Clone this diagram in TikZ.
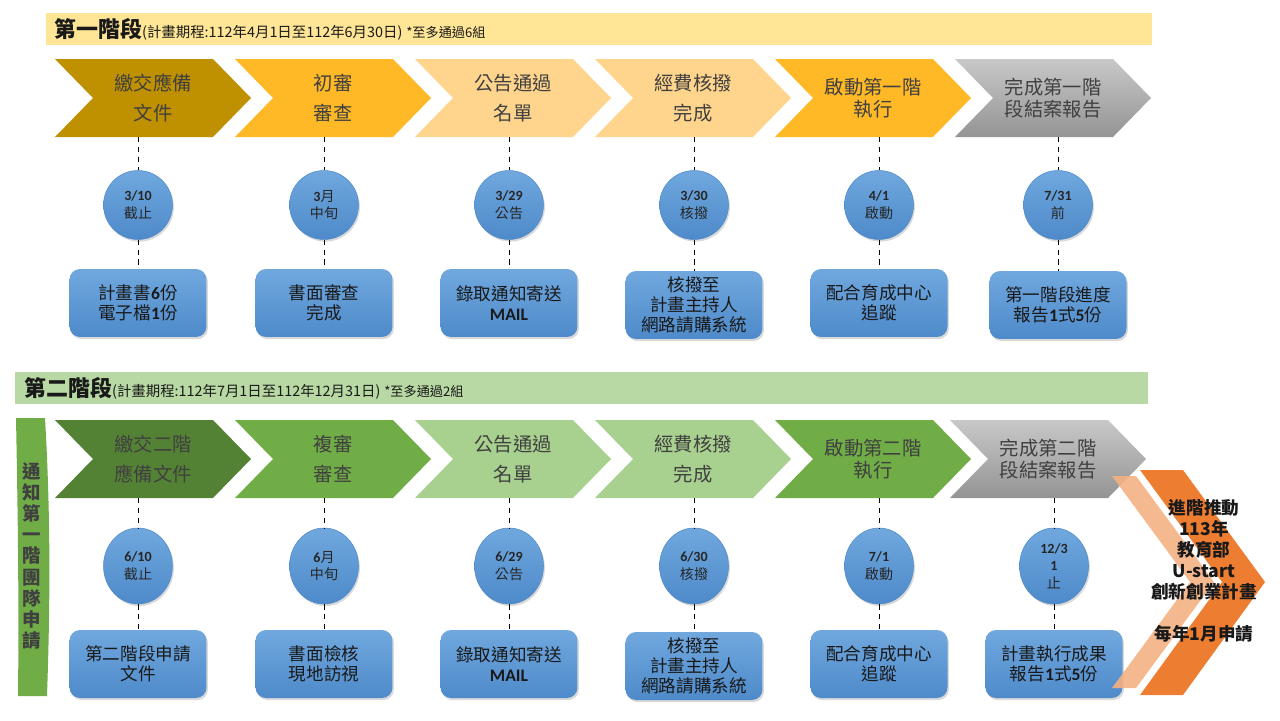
\documentclass[tikz,border=0pt]{standalone}
\usepackage{fontspec}
\setmainfont{Noto Sans CJK TC}
\newfontfamily\numfont{Carlito}
\usetikzlibrary{shapes.geometric}
\usetikzlibrary{shadows}

\definecolor{hdryellow}{RGB}{255,229,150}
\definecolor{hdrgreen}{RGB}{184,217,163}
\definecolor{goldd}{RGB}{191,144,0}
\definecolor{amber}{RGB}{255,185,38}
\definecolor{amberl}{RGB}{255,212,140}
\definecolor{greend}{RGB}{84,130,53}
\definecolor{greenm}{RGB}{112,173,71}
\definecolor{greenl}{RGB}{168,208,142}
\definecolor{grayl}{RGB}{200,200,200}
\definecolor{grayd}{RGB}{148,148,148}
\definecolor{bluel}{RGB}{112,168,222}
\definecolor{blued}{RGB}{78,138,202}
\definecolor{txtgray}{RGB}{64,64,64}
\definecolor{orangem}{RGB}{237,125,49}
\definecolor{peach}{RGB}{244,177,131}

\newcommand{\bnum}[1]{{\numfont\bfseries #1}}

\tikzset{
  hdrtext/.style={anchor=west, inner sep=0pt, text=black!90},
  steptext/.style={text=txtgray, align=center, inner sep=0pt, font=\fontsize{11}{17}\selectfont},
  steptight/.style={steptext, font=\fontsize{11}{12.5}\selectfont},
  datecirc/.style={circle, minimum size=1.38cm, inner sep=0pt, top color=bluel, bottom color=blued,
    draw=blued, line width=0.3pt, drop shadow={shadow xshift=0.8pt, shadow yshift=-1.2pt, opacity=0.3},
    align=center, font=\fontsize{8}{10}\selectfont, text=black!85},
  dateoval/.style={datecirc, ellipse, minimum width=1.38cm, minimum height=1.52cm},
  taskbox/.style={rectangle, rounded corners=6pt, minimum width=2.74cm, minimum height=1.36cm, inner sep=2pt,
    top color=bluel, bottom color=blued, drop shadow={shadow xshift=0.8pt, shadow yshift=-1.2pt, opacity=0.3},
    align=center, font=\fontsize{10}{11.5}\selectfont, text=black!90},
  link/.style={dash pattern=on 3pt off 2.6pt, line width=0.5pt},
  bartext/.style={align=center, inner sep=0pt, font=\fontsize{10.5}{12}\selectfont\bfseries, text=black!75},
  advtext/.style={align=center, inner sep=0pt, font=\fontsize{10}{12}\selectfont\bfseries, text=black!90}
}

\begin{document}
\begin{tikzpicture}[x=0.02cm,y=-0.02cm]
\useasboundingbox (0,0) rectangle (1280,720);

\fill[hdryellow] (46,13) rectangle (1152,45);
\node[hdrtext] (h1) at (54,29) {{\fontsize{12.5}{12.5}\selectfont\bfseries 第一階段}{\fontsize{8.2}{10}\selectfont (計畫期程:112年4月1日至112年6月30日)} {\fontsize{7.5}{9}\selectfont *至多通過6組}};

\fill[goldd] (55,59) -- (213,59) -- (251,98) -- (213,137) -- (55,137) -- (93,98) -- cycle;
\fill[amber] (235,59) -- (393,59) -- (431,98) -- (393,137) -- (235,137) -- (273,98) -- cycle;
\fill[amberl] (415,59) -- (573,59) -- (611,98) -- (573,137) -- (415,137) -- (453,98) -- cycle;
\fill[amberl] (595,59) -- (753,59) -- (791,98) -- (753,137) -- (595,137) -- (633,98) -- cycle;
\fill[amber] (775,59) -- (933,59) -- (971,98) -- (933,137) -- (775,137) -- (813,98) -- cycle;
\shade[top color=grayl, bottom color=grayd] (955,59) -- (1113,59) -- (1151,98) -- (1113,137) -- (955,137) -- (993,98) -- cycle;

\node[steptext] (s1) at (153,98) {繳交應備\\文件};
\node[steptext] (s2) at (333,98) {初審\\審查};
\node[steptext] (s3) at (513,98) {公告通過\\名單};
\node[steptext] (s4) at (693,98) {經費核撥\\完成};
\node[steptight] (s5) at (873,98) {啟動第一階\\執行};
\node[steptight] (s6) at (1053,98) {完成第一階\\段結案報告};

\coordinate (k1) at (138,137);
\coordinate (k2) at (324,137);
\coordinate (k3) at (509,137);
\coordinate (k4) at (694,137);
\coordinate (k5) at (879,137);
\coordinate (k6) at (1058,137);

\node[datecirc] (d1) at (138,205) {\bnum{3/10}\\截止};
\node[datecirc] (d2) at (324,205) {\bnum{3}月\\中旬};
\node[datecirc] (d3) at (509,205) {\bnum{3/29}\\公告};
\node[datecirc] (d4) at (694,205) {\bnum{3/30}\\核撥};
\node[datecirc] (d5) at (879,205) {\bnum{4/1}\\啟動};
\node[datecirc] (d6) at (1058,205) {\bnum{7/31}\\前};

\node[taskbox] (b1) at (138,303) {計畫書\bnum{6}份\\電子檔\bnum{1}份};
\node[taskbox] (b2) at (324,303) {書面審查\\完成};
\node[taskbox] (b3) at (509,303) {錄取通知寄送\\\bnum{MAIL}};
\node[taskbox] (b4) at (694,305) {核撥至\\計畫主持人\\網路請購系統};
\node[taskbox] (b5) at (879,303) {配合育成中心\\追蹤};
\node[taskbox] (b6) at (1058,305) {第一階段進度\\報告\bnum{1}式\bnum{5}份};

\draw[link] (k1) -- (d1); \draw[link] (d1) -- (b1);
\draw[link] (k2) -- (d2); \draw[link] (d2) -- (b2);
\draw[link] (k3) -- (d3); \draw[link] (d3) -- (b3);
\draw[link] (k4) -- (d4); \draw[link] (d4) -- (b4);
\draw[link] (k5) -- (d5); \draw[link] (d5) -- (b5);
\draw[link] (k6) -- (d6); \draw[link] (d6) -- (b6);

\fill[hdrgreen] (15,372) rectangle (1148,404);
\node[hdrtext] (h2) at (24,388) {{\fontsize{12.5}{12.5}\selectfont\bfseries 第二階段}{\fontsize{8.2}{10}\selectfont (計畫期程:112年7月1日至112年12月31日)} {\fontsize{7.5}{9}\selectfont *至多通過2組}};

\fill[greenm] (16,418) -- (45,418) .. controls (51,520) and (50,610) .. (47,696) -- (18,696) .. controls (19,610) and (18,520) .. (16,418) -- cycle;
\node[bartext] (notice) at (32,556) {通\\知\\第\\一\\階\\團\\隊\\申\\請};

\fill[greend] (55,420) -- (213,420) -- (251,459) -- (213,498) -- (55,498) -- (93,459) -- cycle;
\fill[greenm] (235,420) -- (393,420) -- (431,459) -- (393,498) -- (235,498) -- (273,459) -- cycle;
\fill[greenl] (415,420) -- (573,420) -- (611,459) -- (573,498) -- (415,498) -- (453,459) -- cycle;
\fill[greenl] (595,420) -- (753,420) -- (791,459) -- (753,498) -- (595,498) -- (633,459) -- cycle;
\fill[greenm] (775,420) -- (933,420) -- (971,459) -- (933,498) -- (775,498) -- (813,459) -- cycle;
\shade[top color=grayl, bottom color=grayd] (950,420) -- (1108,420) -- (1146,459) -- (1108,498) -- (950,498) -- (988,459) -- cycle;

\node[steptext] (r1) at (153,459) {繳交二階\\應備文件};
\node[steptext] (r2) at (333,459) {複審\\審查};
\node[steptext] (r3) at (513,459) {公告通過\\名單};
\node[steptext] (r4) at (693,459) {經費核撥\\完成};
\node[steptight] (r5) at (873,459) {啟動第二階\\執行};
\node[steptight] (r6) at (1048,459) {完成第二階\\段結案報告};

\coordinate (m1) at (138,498);
\coordinate (m2) at (324,498);
\coordinate (m3) at (509,498);
\coordinate (m4) at (694,498);
\coordinate (m5) at (879,498);
\coordinate (m6) at (1054,498);

\node[dateoval] (e1) at (138,566) {\bnum{6/10}\\截止};
\node[dateoval] (e2) at (324,566) {\bnum{6}月\\中旬};
\node[dateoval] (e3) at (509,566) {\bnum{6/29}\\公告};
\node[dateoval] (e4) at (694,566) {\bnum{6/30}\\核撥};
\node[dateoval] (e5) at (879,566) {\bnum{7/1}\\啟動};
\node[dateoval] (e6) at (1054,566) {\bnum{12/3}\\\bnum{1}\\止};

\node[taskbox] (c1) at (138,664) {第二階段申請\\文件};
\node[taskbox] (c2) at (324,664) {書面檢核\\現地訪視};
\node[taskbox] (c3) at (509,664) {錄取通知寄送\\\bnum{MAIL}};
\node[taskbox] (c4) at (694,666) {核撥至\\計畫主持人\\網路請購系統};
\node[taskbox] (c5) at (879,664) {配合育成中心\\追蹤};
\node[taskbox] (c6) at (1054,664) {計畫執行成果\\報告\bnum{1}式\bnum{5}份};

\draw[link] (m1) -- (e1); \draw[link] (e1) -- (c1);
\draw[link] (m2) -- (e2); \draw[link] (e2) -- (c2);
\draw[link] (m3) -- (e3); \draw[link] (e3) -- (c3);
\draw[link] (m4) -- (e4); \draw[link] (e4) -- (c4);
\draw[link] (m5) -- (e5); \draw[link] (e5) -- (c5);
\draw[link] (m6) -- (e6); \draw[link] (e6) -- (c6);

\fill[peach, opacity=0.9] (1112,476) -- (1136,476) -- (1214,582) -- (1136,688) -- (1112,688) -- (1190,582) -- cycle;
\fill[orangem] (1140,470) -- (1183,470) -- (1265,582) -- (1183,695) -- (1140,695) -- (1222,582) -- cycle;
\node[advtext] (adv) at (1204,571) {進階推動\\113年\\教育部\\U-start\\創新創業計畫\\[12pt]每年1月申請};
\end{tikzpicture}
\end{document}
